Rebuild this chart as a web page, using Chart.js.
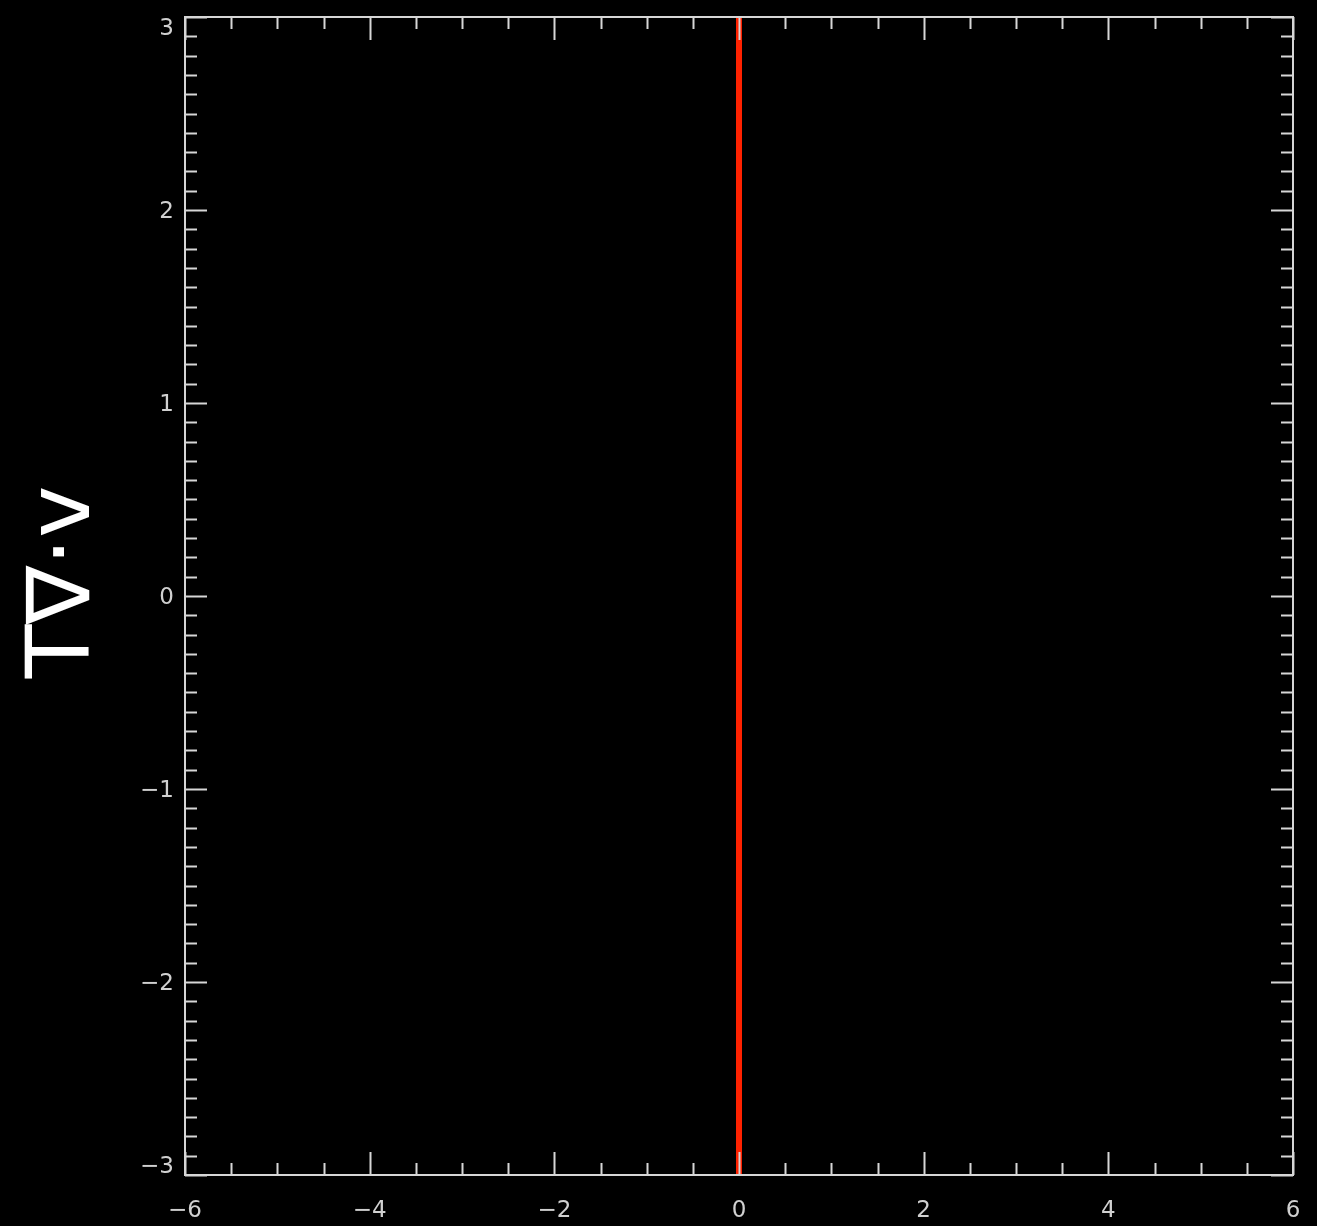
<!DOCTYPE html>
<html><head><meta charset="utf-8">
<script src="https://cdn.jsdelivr.net/npm/chart.js@4/dist/chart.umd.min.js"></script>
<style>html,body{margin:0;padding:0;background:#000;overflow:hidden}</style>
</head><body>
<canvas id="c" width="1317" height="1226"></canvas>
<script>
// ---- data ----
const xTickValues = [-6, -4, -2, 0, 2, 4, 6];
const yTickValues = [-3, -2, -1, 0, 1, 2, 3];
const lineX = [0, 0];
const lineY = [-3, 3];
const yTitle = ' T\u2207\u00b7v';

const axisColor = '#d6d6d6';
const labelColor = '#d0d0d0';
const fmt = v => (v < 0 ? '\u2212' + Math.abs(v) : String(v));

const idlAxes = {
  id: 'idlAxes',
  afterDatasetsDraw(chart) {
    const { ctx, chartArea: a, scales: { x, y } } = chart;
    ctx.save();
    ctx.strokeStyle = axisColor;
    ctx.lineWidth = 2;
    ctx.strokeRect(a.left, a.top, a.right - a.left, a.bottom - a.top);
    ctx.beginPath();
    for (let i = 0; i <= 24; i++) {
      const v = x.min + i * 0.5;
      const px = Math.round(x.getPixelForValue(v)) + 0.5;
      const len = (i % 4 === 0) ? 23 : 12;
      ctx.moveTo(px, a.bottom); ctx.lineTo(px, a.bottom - len);
      ctx.moveTo(px, a.top); ctx.lineTo(px, a.top + len);
    }
    for (let i = 0; i <= 60; i++) {
      const v = y.min + i * 0.1;
      const py = Math.round(y.getPixelForValue(v)) + 0.5;
      const len = (i % 10 === 0) ? 22 : 12;
      ctx.moveTo(a.left, py); ctx.lineTo(a.left + len, py);
      ctx.moveTo(a.right, py); ctx.lineTo(a.right - len, py);
    }
    ctx.stroke();
    ctx.fillStyle = labelColor;
    ctx.font = '23px "DejaVu Sans"';
    ctx.textAlign = 'right';
    ctx.textBaseline = 'middle';
    yTickValues.forEach((v, i) => {
      let py = y.getPixelForValue(v);
      if (i === 0) py -= 10;
      if (i === yTickValues.length - 1) py += 10;
      ctx.fillText(fmt(v), a.left - 11, py + 2);
    });
    ctx.restore();
  }
};

new Chart(document.getElementById('c'), {
  type: 'line',
  data: {
    datasets: [{
      data: lineX.map((xv, i) => ({ x: xv, y: lineY[i] })),
      borderColor: '#ff2200',
      borderWidth: 6,
      pointRadius: 0,
      fill: false
    }]
  },
  options: {
    responsive: false,
    animation: false,
    devicePixelRatio: 1,
    layout: { padding: { top: 17, right: 24, left: 0, bottom: 0 } },
    plugins: { legend: { display: false }, tooltip: { enabled: false } },
    scales: {
      x: {
        type: 'linear', min: -6, max: 6,
        afterBuildTicks: s => { s.ticks = xTickValues.map(v => ({ value: v })); },
        afterFit: s => { s.height = 51; s.paddingLeft = 0; s.paddingRight = 0; },
        grid: { display: false, drawTicks: false },
        border: { display: false },
        ticks: {
          color: labelColor, padding: 22, maxRotation: 0, autoSkip: false,
          font: { family: 'DejaVu Sans', size: 23 },
          callback: v => fmt(v)
        }
      },
      y: {
        type: 'linear', min: -3, max: 3,
        afterBuildTicks: s => { s.ticks = yTickValues.map(v => ({ value: v })); },
        afterFit: s => { s.width = 185; s.paddingTop = 0; s.paddingBottom = 0; },
        grid: { display: false, drawTicks: false },
        border: { display: false },
        ticks: { display: false },
        title: {
          display: true, text: yTitle, color: '#ffffff',
          font: { family: 'DejaVu Sans', size: 88, lineHeight: 1 },
          padding: { top: 22, bottom: 0 }
        }
      }
    }
  },
  plugins: [idlAxes]
});
</script>
</body></html>
